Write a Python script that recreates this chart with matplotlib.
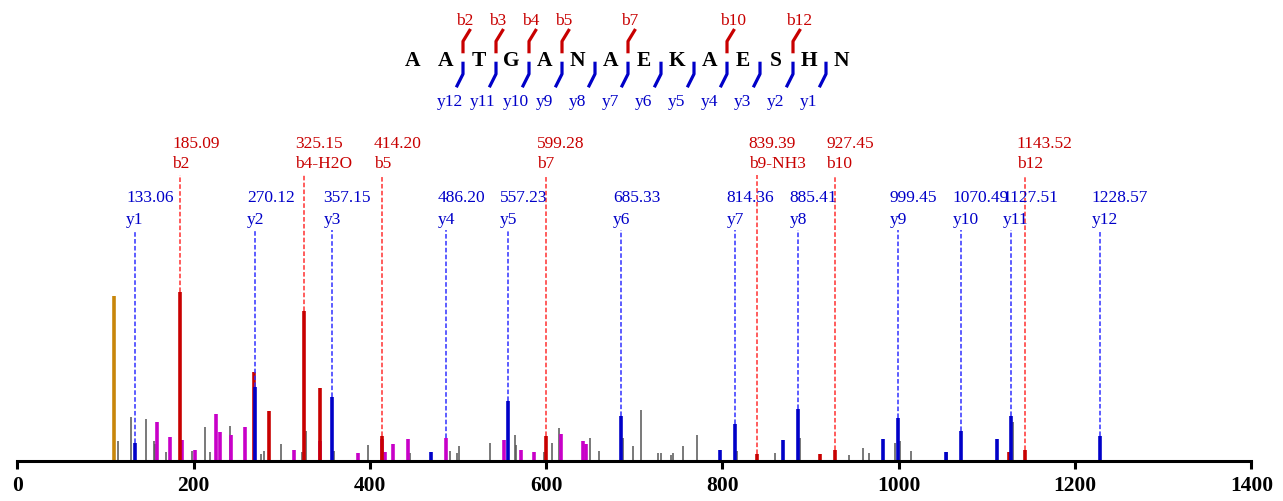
import matplotlib
matplotlib.use("Agg")
import matplotlib.pyplot as plt

plt.rcParams['font.family'] = ['Liberation Serif', 'DejaVu Serif']

# peptide and fragment annotation
sequence = list("AATGANAEKAESHN")
b_breaks = [2, 3, 4, 5, 7, 10, 12]          # b ion index = residues from N-term
y_breaks = list(range(1, 13))               # y ion index = residues from C-term

# labelled peaks: m/z, relative intensity, ion name
b_mz = [185.09, 325.15, 414.20, 599.28, 839.39, 927.45, 1143.52]
b_int = [100.0, 88.6, 14.8, 14.8, 4.1, 6.5, 6.5]
b_names = ['b2', 'b4-H2O', 'b5', 'b7', 'b9-NH3', 'b10', 'b12']

y_mz = [133.06, 270.12, 357.15, 486.20, 557.23, 685.33, 814.36, 885.41,
        999.45, 1070.49, 1127.51, 1228.57]
y_int = [10.6, 43.7, 37.8, 13.6, 35.4, 26.6, 21.9, 30.7, 25.4, 17.7, 26.6, 14.8]
y_names = ['y1', 'y2', 'y3', 'y4', 'y5', 'y6', 'y7', 'y8', 'y9', 'y10', 'y11', 'y12']
y_peak_kind = ['b', 'b', 'b', 'm', 'b', 'b', 'b', 'b', 'b', 'b', 'b', 'b']

# unlabelled peaks
red_mz = [268.5, 285.9, 343.7, 910.4, 1125.3]
red_int = [52.6, 29.5, 43.1, 4.1, 5.3]

blue_mz = [469.0, 797.5, 868.3, 982.1, 1053.2, 1111.1]
blue_int = [5.3, 6.5, 12.4, 13.0, 5.3, 13.0]

mag_mz = [158.8, 173.6, 186.8, 201.9, 225.7, 229.9, 242.8, 258.0, 313.9, 343.4,
          386.2, 413.5, 417.3, 425.9, 442.9, 552.5, 571.4, 586.5, 616.4, 642.1, 644.8]
mag_int = [23.0, 14.2, 12.4, 6.5, 27.8, 17.1, 15.4, 20.1, 6.5, 11.8,
           4.7, 13.0, 5.3, 10.0, 13.0, 12.4, 6.5, 5.3, 15.9, 11.8, 10.0]

gray_mz = [114.2, 129.0, 146.0, 155.1, 156.2, 168.3, 198.2, 212.9, 218.6, 241.3,
           276.5, 279.9, 298.8, 323.3, 327.2, 359.6, 397.8, 445.5, 490.8, 499.1,
           500.7, 535.9, 564.3, 565.8, 597.5, 606.9, 614.5, 650.0, 659.5, 687.5,
           698.1, 707.5, 726.5, 729.9, 741.6, 743.5, 754.8, 771.4, 816.4, 859.6,
           887.6, 943.2, 959.8, 965.9, 995.7, 1001.4, 1013.8, 1054.9, 1129.5]
gray_int = [11.8, 26.0, 24.8, 11.8, 10.0, 5.3, 5.9, 20.1, 5.3, 20.7,
            4.1, 5.9, 10.0, 5.3, 17.7, 5.9, 9.4, 4.7, 5.9, 4.7,
            8.9, 10.6, 15.4, 9.4, 5.3, 10.6, 19.5, 13.6, 5.9, 13.6,
            8.9, 30.1, 4.7, 4.7, 3.5, 4.7, 8.9, 15.4, 5.9, 4.7,
            13.6, 3.5, 7.7, 4.7, 10.6, 11.8, 5.9, 5.3, 23.0]

prec_mz = [109.7]
prec_int = [97.5]

RED = '#c80000'
BLUE = '#0000c8'
MAG = '#c800c8'
GRAY = '#555555'
ORANGE = '#c8860a'

fig = plt.figure(figsize=(12.83, 5.02), dpi=100)
ax = fig.add_axes([17.3 / 1283, 40 / 502, 1234.1 / 1283, 462 / 502])

ax.vlines(gray_mz, 0, gray_int, color=GRAY, lw=1.1)
ax.vlines(mag_mz, 0, mag_int, color=MAG, lw=2.6)
ax.vlines(red_mz, 0, red_int, color=RED, lw=2.6)
ax.vlines(blue_mz, 0, blue_int, color=BLUE, lw=2.6)
ax.vlines(prec_mz, 0, prec_int, color=ORANGE, lw=2.6)

# labelled b ions
for mz, h, name in zip(b_mz, b_int, b_names):
    ax.vlines(mz, 0, h, color=RED, lw=2.6)
    ax.plot([mz, mz], [h, 169.1], color='#ff3030', lw=1.1, ls=(0, (3, 1.5)))
    ax.text(mz - 9.6, 173.8, name, color=RED, fontsize=12.5, va='baseline')
    ax.text(mz - 9.6, 185.3, '%.2f' % mz, color=RED, fontsize=12.5, va='baseline')

# labelled y ions
for mz, h, name, kind in zip(y_mz, y_int, y_names, y_peak_kind):
    ax.vlines(mz, 0, h, color=MAG if kind == 'm' else BLUE, lw=2.6)
    ax.plot([mz, mz], [h, 136.4], color='#3030ff', lw=1.1, ls=(0, (3, 1.5)))
    ax.text(mz - 9.6, 140.4, name, color=BLUE, fontsize=12.5, va='baseline')
    ax.text(mz - 9.6, 153.8, '%.2f' % mz, color=BLUE, fontsize=12.5, va='baseline')

ax.set_xlim(0, 1400)
ax.set_ylim(0, 272.9)
for s in ['top', 'right', 'left']:
    ax.spines[s].set_visible(False)
ax.spines['bottom'].set_linewidth(2.2)
ax.set_yticks([])
ax.set_xticks(range(0, 1401, 200))
ax.tick_params(axis='x', direction='out', length=5.5, width=2.2, pad=4.5)
for lab in ax.get_xticklabels():
    lab.set_fontweight('bold')
    lab.set_fontsize(15.5)

# sequence diagram in pixel coordinates
ov = fig.add_axes([0, 0, 1, 1])
ov.set_xlim(0, 1283)
ov.set_ylim(502, 0)
ov.axis('off')

x0 = 412.7
step = 33.0
for i, aa in enumerate(sequence):
    ov.text(x0 + i * step, 61, aa, fontsize=15.5, fontweight='bold',
            ha='center', va='center')

def brk(k):
    return x0 + step * (k - 0.5) + 0.8

for k in b_breaks:
    x = brk(k)
    ov.plot([x, x, x + 7.5], [54.3, 42.3, 30], color=RED, lw=2.3,
            solid_capstyle='butt')
    ov.text(x - 7, 25, 'b%d' % k, color=RED, fontsize=12.5, va='baseline')

for n in y_breaks:
    x = brk(len(sequence) - n)
    ov.plot([x, x, x - 6.7], [62.7, 75, 88.3], color=BLUE, lw=2.3,
            solid_capstyle='butt')
    ov.text(x - 26, 106, 'y%d' % n, color=BLUE, fontsize=12.5, va='baseline')

fig.savefig('out.png', dpi=100)
